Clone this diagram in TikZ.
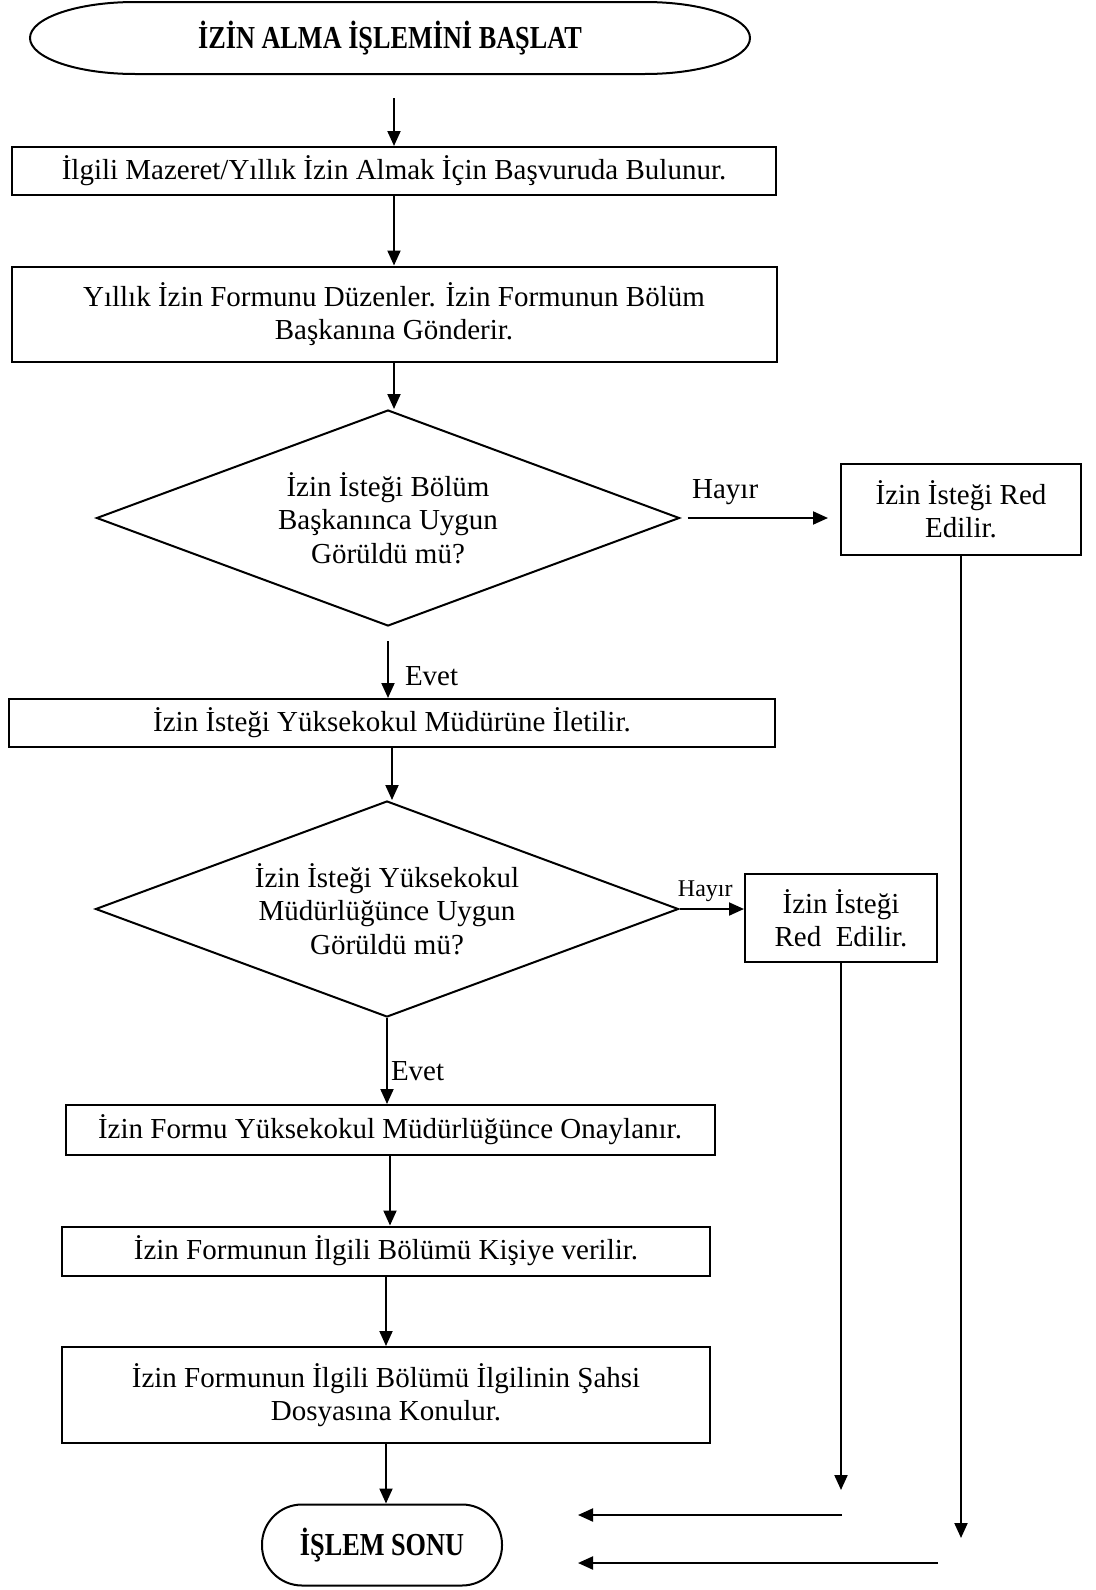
\documentclass[tikz,border=0pt]{standalone}
\usepackage{fontspec}
\setmainfont{Liberation Serif}
\newfontfamily\narrowserif[FakeStretch=0.82]{Liberation Serif}
\usepackage{tikz}
\usetikzlibrary{shapes.geometric,arrows.meta}

\begin{document}
\begin{tikzpicture}%
  [x=1pt,y=-1pt,line width=2pt,
   flow/.style={-{Triangle[length=15pt,width=13pt]}}]
  \tikzstyle{box node}=[rectangle,draw,inner sep=2,align=center,
    font=\fontsize{29}{33.5}\selectfont]
  \tikzstyle{dia node}=[diamond,draw,aspect=2.7,inner sep=1,align=center,
    minimum width=583pt,minimum height=216pt,font=\fontsize{29}{33.5}\selectfont]
  \tikzstyle{term node}=[inner sep=2,
    font=\narrowserif\bfseries\fontsize{32}{36}\selectfont]
  \tikzstyle{lbl node}=[inner sep=0,font=\fontsize{29}{33.5}\selectfont]
  \useasboundingbox (0,0) rectangle (1095,1590);
  % nodes
  \node(start)[term node,outer sep=0,minimum width=720pt,minimum height=72pt]
    at (390,38) {İZİN ALMA İŞLEMİNİ BAŞLAT};
  \draw ([xshift=105pt]start.north west) -- ([xshift=-105pt]start.north east)
    arc[start angle=90,end angle=-90,x radius=105pt,y radius=36pt]
    -- ([xshift=105pt]start.south west)
    arc[start angle=270,end angle=90,x radius=105pt,y radius=36pt] -- cycle;
  \node(box1)[box node,minimum width=764pt,minimum height=48pt] at (394,171)
    {İlgili Mazeret/Yıllık İzin Almak İçin Başvuruda Bulunur.};
  \node(box2)[box node,minimum width=765pt,minimum height=95pt] at (394,314)
    {Yıllık İzin Formunu Düzenler. İzin Formunun Bölüm\\Başkanına Gönderir.};
  \node(dia1)[dia node] at (388,518)
    {İzin İsteği Bölüm\\Başkanınca Uygun\\Görüldü mü?};
  \node(red1)[box node,minimum width=240pt,minimum height=91pt] at (961,509)
    {İzin İsteği Red\\Edilir.};
  \node(box3)[box node,minimum width=766pt,minimum height=48pt] at (392,723)
    {İzin İsteği Yüksekokul Müdürüne İletilir.};
  \node(dia2)[dia node] at (387,909)
    {İzin İsteği Yüksekokul\\Müdürlüğünce Uygun\\Görüldü mü?};
  \node(red2)[box node,minimum width=192pt,minimum height=88pt] at (841,918)
    {İzin İsteği\\Red\ \ Edilir.};
  \node(box4)[box node,minimum width=649pt,minimum height=50pt] at (390,1130)
    {İzin Formu Yüksekokul Müdürlüğünce Onaylanır.};
  \node(box5)[box node,minimum width=648pt,minimum height=49pt] at (386,1251)
    {İzin Formunun İlgili Bölümü Kişiye verilir.};
  \node(box6)[box node,minimum width=648pt,minimum height=96pt] at (386,1395)
    {İzin Formunun İlgili Bölümü İlgilinin Şahsi\\Dosyasına Konulur.};
  \node(end)[term node,draw,rectangle,rounded corners=40pt,minimum width=240pt,
    minimum height=81pt] at (382,1545) {İŞLEM SONU};
  % free ends
  \coordinate(r1end) at (961,1538);
  \coordinate(r2end) at (841,1490);
  \coordinate(h1a) at (842,1515);
  \coordinate(h1b) at (578,1515);
  \coordinate(h2a) at (938,1563);
  \coordinate(h2b) at (578,1563);
  % connectors
  \draw[flow,shorten <=24pt] (start.south -| box1.north) -- (box1.north);
  \draw[flow] (box1.south) -- (box1.south |- box2.north);
  \draw[flow] (box2.south) -- (box2.south |- dia1.north);
  \draw[flow,shorten <=14pt] (dia1.south) -- (dia1.south |- box3.north)
    node[lbl node,anchor=west,pos=0.69,xshift=16pt]{Evet};
  \draw[flow] (box3.south) -- (box3.south |- dia2.north);
  \draw[flow] (dia2.south) -- (dia2.south |- box4.north)
    node[lbl node,anchor=west,pos=0.62,xshift=3pt]{Evet};
  \draw[flow] (box4.south) -- (box4.south |- box5.north);
  \draw[flow] (box5.south) -- (box5.south |- box6.north);
  \draw[flow] (box6.south) -- (box6.south |- end.north);
  \draw[flow,shorten <=7pt,shorten >=12pt] (dia1.east) -- (dia1.east -| red1.west)
    node[lbl node,pos=0.28,above=12pt]{Hayır};
  \draw[flow] (dia2.east) -- (dia2.east -| red2.west)
    node[lbl node,pos=0.4,above=6pt,font=\fontsize{24}{28}\selectfont]{Hayır};
  \draw[flow] (red1.south) -- (r1end);
  \draw[flow] (red2.south) -- (r2end);
  \draw[flow] (h1a) -- (h1b);
  \draw[flow] (h2a) -- (h2b);
\end{tikzpicture}
\end{document}
